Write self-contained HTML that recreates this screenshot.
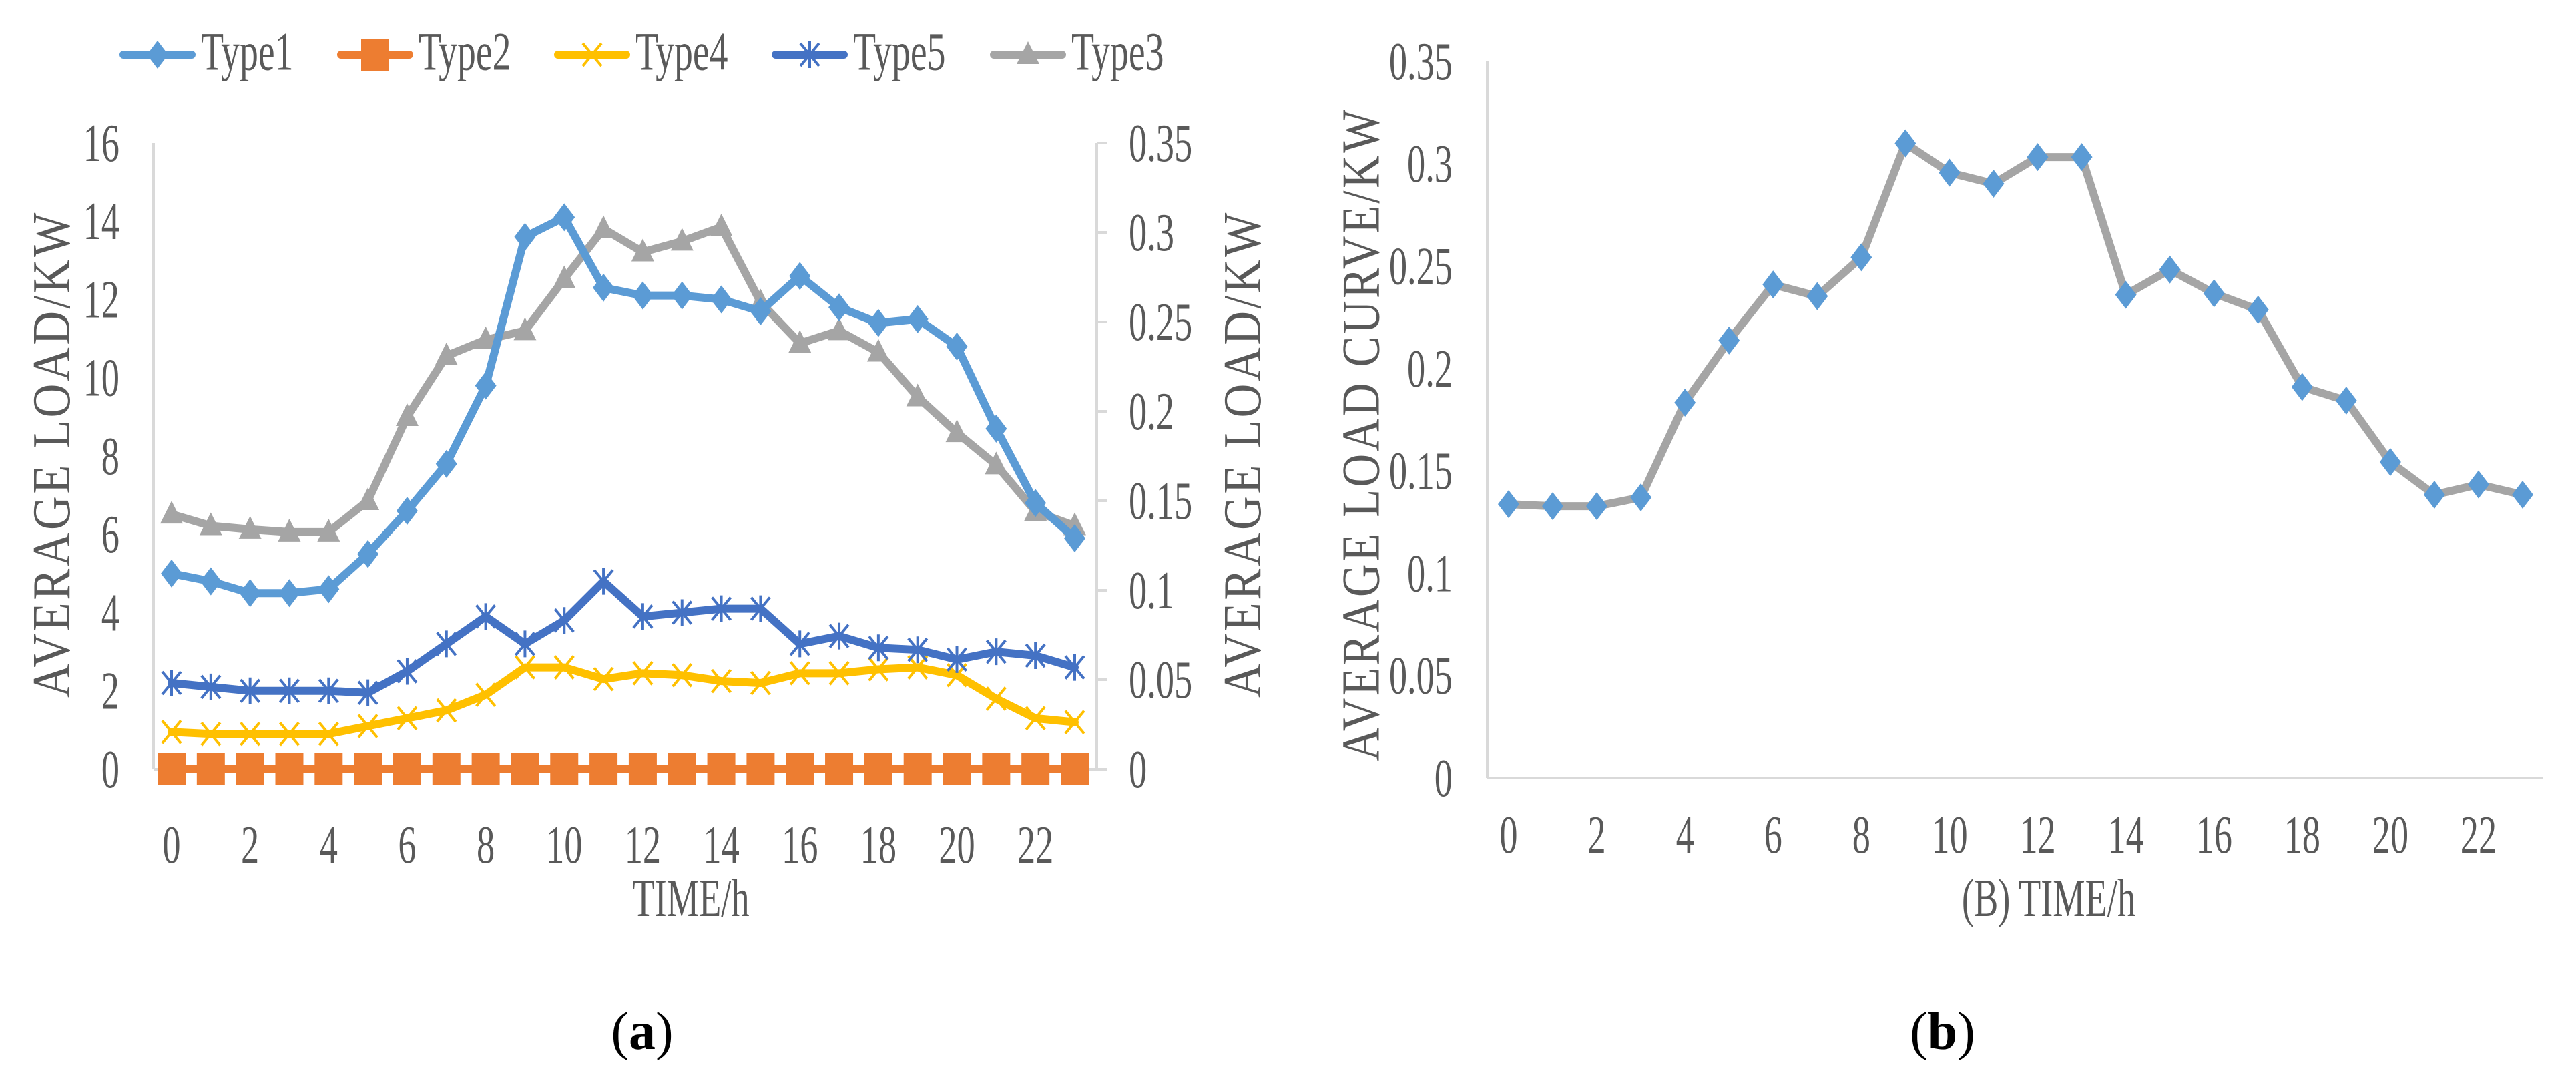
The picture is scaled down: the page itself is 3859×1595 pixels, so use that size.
<!DOCTYPE html>
<html><head><meta charset="utf-8"><style>
html,body{margin:0;padding:0;background:#fff;}
svg{display:block;}
text{font-family:"Liberation Serif",serif;fill:#595959;}
</style></head><body>
<svg id="svg" width="3859" height="1595" viewBox="0 0 3859 1595" xmlns="http://www.w3.org/2000/svg">
<g id="A"></g>
<g id="B"></g>
</svg>
<script>
const hours = [0,1,2,3,4,5,6,7,8,9,10,11,12,13,14,15,16,17,18,19,20,21,22,23];
const type1 = [5.0,4.8,4.5,4.5,4.6,5.5,6.6,7.8,9.8,13.6,14.1,12.3,12.1,12.1,12.0,11.7,12.6,11.8,11.4,11.5,10.8,8.7,6.8,5.9];
const type2 = [0,0,0,0,0,0,0,0,0,0,0,0,0,0,0,0,0,0,0,0,0,0,0,0];
const type4 = [0.95,0.9,0.9,0.9,0.9,1.1,1.3,1.5,1.9,2.6,2.6,2.3,2.45,2.4,2.25,2.2,2.45,2.45,2.55,2.6,2.4,1.8,1.3,1.2];
const type5 = [2.2,2.1,2.0,2.0,2.0,1.95,2.5,3.2,3.9,3.2,3.8,4.8,3.9,4.0,4.1,4.1,3.2,3.4,3.1,3.05,2.8,3.0,2.9,2.6];
const type3 = [0.1425,0.136,0.134,0.1325,0.1325,0.15,0.197,0.231,0.240,0.245,0.274,0.302,0.289,0.295,0.303,0.261,0.238,0.245,0.233,0.208,0.188,0.170,0.144,0.136];
const curveB = [0.1337,0.1327,0.1327,0.137,0.1833,0.2137,0.241,0.2353,0.2543,0.31,0.2957,0.2903,0.3033,0.3033,0.236,0.2483,0.2367,0.2287,0.191,0.1843,0.1543,0.1383,0.1433,0.1383];
const leftTicks = [0,2,4,6,8,10,12,14,16];
const rightTicks = [0,0.05,0.1,0.15,0.2,0.25,0.3,0.35];
const xTicks = [0,2,4,6,8,10,12,14,16,18,20,22];
const legendNames = ["Type1","Type2","Type4","Type5","Type3"];

const NS="http://www.w3.org/2000/svg";
function el(tag, attrs, parent){const e=document.createElementNS(NS,tag);for(const k in attrs)e.setAttribute(k,attrs[k]);parent.appendChild(e);return e;}
function txt(parent,s,x,y,anchor,size,rot,sx){
  const t=el('text',{x:0,y:0,'text-anchor':anchor,'font-size':size,'dominant-baseline':'central',
    transform:'translate('+x+','+y+')'+(rot?' rotate('+rot+')':'')+' scale('+(sx||0.68)+',1)'},parent);
  t.textContent=s;return t;}
const C={t1:'#5B9BD5',t2:'#ED7D31',t4:'#FFC000',t5:'#4472C4',t3:'#A5A5A5'};
function marker(g,kind,x,y,color){
  let m;
  if(kind==='diamond'){m=el('polygon',{points:(x)+','+(y-21)+' '+(x+16)+','+y+' '+(x)+','+(y+21)+' '+(x-16)+','+y,fill:color},g);}
  else if(kind==='square'){m=el('rect',{x:x-21,y:y-24,width:42,height:48,fill:color},g);}
  else if(kind==='x'){m=el('path',{d:'M'+(x-14)+' '+(y-17)+'L'+(x+14)+' '+(y+17)+'M'+(x+14)+' '+(y-17)+'L'+(x-14)+' '+(y+17),stroke:color,'stroke-width':4,fill:'none'},g);}
  else if(kind==='star'){m=el('path',{d:'M'+(x-14)+' '+(y-17)+'L'+(x+14)+' '+(y+17)+'M'+(x+14)+' '+(y-17)+'L'+(x-14)+' '+(y+17)+'M'+x+' '+(y-20)+'L'+x+' '+(y+20),stroke:color,'stroke-width':4,fill:'none'},g);}
  else {m=el('polygon',{points:(x)+','+(y-20)+' '+(x+17)+','+(y+14)+' '+(x-17)+','+(y+14),fill:color},g);}
  
  
  return m;}

// ---------- Chart A ----------
const A=document.getElementById('A');
const ax0=257, axStep=(1610-257)/23, ay0=1152, ay16=214;
const xA=h=>ax0+h*axStep;
const yL=v=>ay0-(v/16)*(ay0-ay16);
const yR=v=>ay0-(v/0.35)*(ay0-ay16);
let l=el('line',{x1:230,y1:ay16,x2:230,y2:ay0,stroke:'#d9d9d9','stroke-width':4},A);

l=el('line',{x1:1643,y1:ay16,x2:1643,y2:ay0,stroke:'#d9d9d9','stroke-width':4},A);

l=el('line',{x1:230,y1:ay0,x2:1643,y2:ay0,stroke:'#d9d9d9','stroke-width':4},A);

rightTicks.forEach(v=>{const k=el('line',{x1:1643,y1:yR(v),x2:1658,y2:yR(v),stroke:'#d9d9d9','stroke-width':4},A);
  
  const t=txt(A,String(v),1691,yR(v),'start',80);});
leftTicks.forEach(v=>{const t=txt(A,String(v),179,yL(v),'end',80);});
xTicks.forEach(v=>{const t=txt(A,String(v),xA(v),1265,'middle',80);});
let t=txt(A,'AVERAGE LOAD/KW',78,680,'middle',80,-90,0.88);
t.setAttribute('letter-spacing','4');
t=txt(A,'AVERAGE LOAD/KW',1862,680,'middle',80,-90,0.88);
t.setAttribute('letter-spacing','4');
t=txt(A,'TIME/h',1035,1345,'middle',80);
t=el('text',{x:962,y:1545,'text-anchor':'middle','dominant-baseline':'central','font-size':80,style:'fill:#000'},A);
t.innerHTML='(<tspan font-weight="bold">a</tspan>)';

const series=[
 {name:'type1',vals:type1,y:yL,color:C.t1,m:'diamond'},
 {name:'type2',vals:type2,y:yL,color:C.t2,m:'square'},
 {name:'type4',vals:type4,y:yL,color:C.t4,m:'x'},
 {name:'type5',vals:type5,y:yL,color:C.t5,m:'star'},
 {name:'type3',vals:type3,y:yR,color:C.t3,m:'triangle'}];
const drawOrder=[1,2,3,4,0];
drawOrder.forEach(i=>{const s=series[i];
  const g=el('g',{},A);
  const pts=hours.map((h,j)=>xA(h)+','+s.y(s.vals[j])).join(' ');
  const p=el('polyline',{points:pts,fill:'none',stroke:s.color,'stroke-width':12,'stroke-linejoin':'round','stroke-linecap':'round'},g);
  
  hours.forEach((h,j)=>marker(g,s.m,xA(h),s.y(s.vals[j]),s.color));});

// legend
const legX=[179,505,830,1156,1483];
const legKinds=['diamond','square','x','star','triangle'];
const legCols=[C.t1,C.t2,C.t4,C.t5,C.t3];
legendNames.forEach((n,i)=>{const g=el('g',{},A);
  const ln=el('line',{x1:legX[i]+6,y1:82,x2:legX[i]+108,y2:82,stroke:legCols[i],'stroke-width':12,'stroke-linecap':'round'},g);
  
  marker(g,legKinds[i],legX[i]+57,82,legCols[i]);
  const tt=txt(g,n,legX[i]+122,78,'start',82);});

// ---------- Chart B ----------
const B=document.getElementById('B');
const bx0=2260, bStep=(3779-2260)/23, by0=1165, byTop=92;
const xB=h=>bx0+h*bStep;
const yB=v=>by0-(v/0.35)*(by0-byTop);
l=el('line',{x1:2228,y1:byTop,x2:2228,y2:by0,stroke:'#d9d9d9','stroke-width':4},B);

l=el('line',{x1:2228,y1:by0,x2:3809,y2:by0,stroke:'#d9d9d9','stroke-width':4},B);

rightTicks.forEach(v=>{const tt=txt(B,String(v),2176,yB(v),'end',80);});
xTicks.forEach(v=>{const tt=txt(B,String(v),xB(v),1250,'middle',80);});
t=txt(B,'AVERAGE LOAD CURVE/KW',2040,650,'middle',80,-90,0.86);
t.setAttribute('letter-spacing','4');
t=txt(B,'(B) TIME/h',3069,1345,'middle',80);
t=el('text',{x:2910,y:1545,'text-anchor':'middle','dominant-baseline':'central','font-size':80,style:'fill:#000'},B);
t.innerHTML='(<tspan font-weight="bold">b</tspan>)';
const gb=el('g',{},B);
const pb=el('polyline',{points:hours.map((h,j)=>xB(h)+','+yB(curveB[j])).join(' '),fill:'none',stroke:'#A5A5A5','stroke-width':12,'stroke-linejoin':'round'},gb);

hours.forEach((h,j)=>marker(gb,'diamond',xB(h),yB(curveB[j]),C.t1));
</script>
</body></html>
